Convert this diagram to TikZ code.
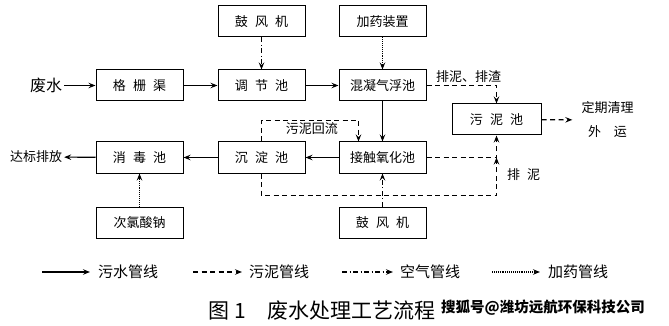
\documentclass[tikz,border=0pt]{standalone}
\usepackage{fontspec}
\setmainfont{Noto Sans CJK SC}
\newfontfamily\wmfont{Noto Sans CJK SC}
\usetikzlibrary{arrows.meta,positioning}
\newcommand\kg{\hspace{0.55em}}
\tikzset{
  kuang/.style={draw,line width=1pt,minimum width=87pt,minimum height=31pt,inner sep=0pt,font=\fontsize{13}{15}\selectfont},
  wz/.style={inner sep=2pt,font=\fontsize{13}{15}\selectfont},
  shui/.style={line width=1.1pt,-{Stealth[length=7pt,width=5.5pt,inset=2.5pt]}},
  ni/.style={shui,dash pattern=on 5pt off 3.5pt},
  qi/.style={shui,dash pattern=on 5pt off 2.5pt on 1pt off 2.5pt},
  yao/.style={shui,line width=1.2pt,dash pattern=on 1pt off 0.9pt},
}
\begin{document}
\begin{tikzpicture}[x=1pt,y=-1pt]
  \useasboundingbox (0,0) rectangle (669,326);
  % boxes
  \node[kuang] (gsq) at (139.5,85.5) {格\kg 栅\kg 渠};
  \node[kuang,right=34pt of gsq] (tjc) {调\kg 节\kg 池};
  \node[kuang,right=33pt of tjc] (hnqf) {混凝气浮池};
  \node[kuang,above=32pt of tjc] (gfj) {鼓\kg 风\kg 机};
  \node[kuang,above=32pt of hnqf] (jyzz) {加药装置};
  \node[kuang,below=40pt of hnqf] (jczy) {接触氧化池};
  \node[kuang,left=33pt of jczy] (cdc) {沉\kg 淀\kg 池};
  \node[kuang,left=34pt of cdc] (xdc) {消\kg 毒\kg 池};
  \node[kuang,below=33pt of xdc] (clsn) {次氯酸钠};
  \node[kuang,below=33pt of jczy] (gfjb) {鼓\kg 风\kg 机};
  \node[kuang,minimum width=89pt] (snc) at (496.5,119.5) {污\kg 泥\kg 池};
  % free texts
  \node[wz,font=\fontsize{16}{18}\selectfont] (fs) at (46,85.5) {废水};
  \node[wz] (dbpf) at (36,157) {达标排放};
  \node[wz,inner xsep=9pt,align=center,font=\fontsize{13}{24}\selectfont] (dqql) at (607.5,120) {定期清理\\外\quad 运};
  % flows
  \draw[shui] (fs) -- (gsq);
  \draw[shui] (gsq) -- (tjc);
  \draw[shui] (tjc) -- (hnqf);
  \draw[shui] (hnqf) -- (jczy);
  \draw[shui] (jczy) -- (cdc);
  \draw[shui] (cdc) -- (xdc);
  \draw[shui] (xdc) -- (dbpf);
  \draw[qi] (gfj) -- (tjc);
  \draw[qi] (gfjb) -- (jczy);
  \draw[yao] (jyzz) -- (hnqf);
  \draw[yao] (clsn) -- (xdc);
  \draw[ni] (hnqf.east) -| node[pos=0.3,above,wz] {排泥、排渣} (snc.north);
  \draw[ni] (snc) -- (dqql);
  \draw[ni] (jczy.east) -| (snc.south);
  \draw[ni] (cdc.south) -- ++(0,22) -| node[pos=0.78,right=8pt,wz] {排\kg 泥} (jczy.east -| snc.south);
  \draw[ni] (cdc.north) -- ++(0,-21) -| node[pos=0.26,below,wz] {污泥回流} ([xshift=-24pt]jczy.north);
  % legend
  \coordinate (l1a) at (42,272);
  \coordinate (l2a) at (193,272);
  \coordinate (l3a) at (342,272);
  \coordinate (l4a) at (492,272);
  \node[wz,anchor=west,inner sep=0pt,font=\fontsize{15}{17}\selectfont] (l1) at (98,272) {污水管线};
  \node[wz,anchor=west,inner sep=0pt,font=\fontsize{15}{17}\selectfont] (l2) at (249,272) {污泥管线};
  \node[wz,anchor=west,inner sep=0pt,font=\fontsize{15}{17}\selectfont] (l3) at (400,272) {空气管线};
  \node[wz,anchor=west,inner sep=0pt,font=\fontsize{15}{17}\selectfont] (l4) at (548,272) {加药管线};
  \draw[shui] (l1a) -- ([xshift=-8pt]l1.west);
  \draw[ni] (l2a) -- ([xshift=-7pt]l2.west);
  \draw[qi] (l3a) -- ([xshift=-7pt]l3.west);
  \draw[yao] (l4a) -- ([xshift=-8pt]l4.west);
  % caption
  \node[font=\fontsize{21}{24}\selectfont] (tm) at (322,311) {图 1\quad 废水处理工艺流程};
  \node[font=\wmfont\bfseries\fontsize{14.5}{17}\selectfont] (sy) at (543,308) {搜狐号@潍坊远航环保科技公司};
\end{tikzpicture}
\end{document}
